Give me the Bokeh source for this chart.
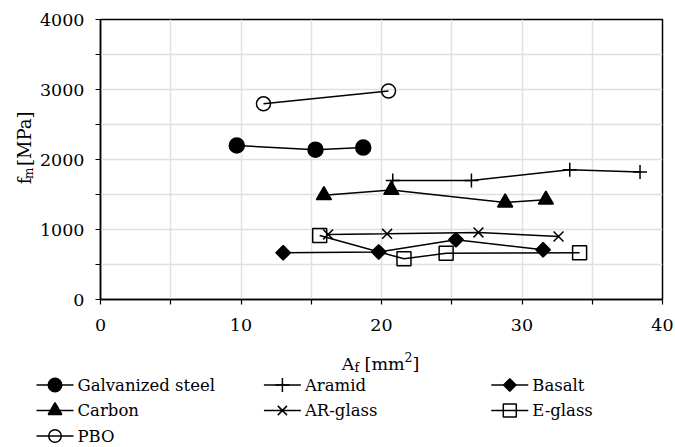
from math import pi
from bokeh.plotting import figure
from bokeh.models import Range1d, FixedTicker, Label
from bokeh.core.properties import value
from bokeh.layouts import column, row
from bokeh.embed import file_html
from bokeh.resources import INLINE

# ---- data ----
x_ticks = [0, 10, 20, 30, 40]
x_minor = [5, 15, 25, 35]
y_ticks = [0, 1000, 2000, 3000, 4000]
y_minor = [500, 1500, 2500, 3500]

steel_x = [9.7, 15.3, 18.7]
steel_y = [2200, 2140, 2170]
aramid_x = [20.8, 26.4, 33.4, 38.4]
aramid_y = [1700, 1700, 1855, 1820]
basalt_x = [13.0, 19.8, 25.3, 31.5]
basalt_y = [667, 680, 855, 710]
carbon_x = [15.9, 20.7, 28.8, 31.7]
carbon_y = [1490, 1565, 1385, 1425]
arglass_x = [16.2, 20.4, 26.9, 32.6]
arglass_y = [930, 938, 958, 900]
eglass_x = [15.6, 21.6, 24.6, 34.1]
eglass_y = [914, 581, 660, 667]
pbo_x = [11.6, 20.5]
pbo_y = [2795, 2978]

series_names = ["Galvanized steel", "Aramid", "Basalt", "Carbon", "AR-glass", "E-glass", "PBO"]

FONT = "DejaVu Serif"
LW = 1.5

# marker style per series: (marker, size in plot, size in legend, filled, angle)
styles = {
    "Galvanized steel": ("circle", 15, 13.5, True, 0.0),
    "Aramid": ("cross", 14, 14, True, 0.0),
    "Basalt": ("square", 10.2, 8.8, True, pi / 4),
    "Carbon": ("triangle", 15, 13.5, True, 0.0),
    "AR-glass": ("x", 14, 13, True, 0.0),
    "E-glass": ("square", 14, 13, False, 0.0),
    "PBO": ("circle", 14, 12.5, False, 0.0),
}
data = {
    "Galvanized steel": (steel_x, steel_y),
    "Aramid": (aramid_x, aramid_y),
    "Basalt": (basalt_x, basalt_y),
    "Carbon": (carbon_x, carbon_y),
    "AR-glass": (arglass_x, arglass_y),
    "E-glass": (eglass_x, eglass_y),
    "PBO": (pbo_x, pbo_y),
}

W, H = 675, 447
YT_W = 36          # strip holding the y title
TOP_H = 345        # plot + tick labels
BOT_H = H - TOP_H  # strip holding x title and legend


def blank(width, height):
    f = figure(width=width, height=height, output_backend="svg", toolbar_location=None,
               x_range=Range1d(0, width), y_range=Range1d(0, height),
               x_axis_location=None, y_axis_location=None, min_border=0)
    f.outline_line_color = None
    f.background_fill_color = "white"
    f.border_fill_color = "white"
    f.grid.visible = False
    return f


def lab(fig, text, x, y, size, align="left", baseline="alphabetic"):
    fig.add_layout(Label(x=x, y=y, text=text, text_font=FONT, text_font_size=f"{size}px",
                         text_color="black", text_align=align, text_baseline=baseline))


# ---- main plot ----
p = figure(width=W - YT_W, height=TOP_H, output_backend="svg", toolbar_location=None,
           x_range=Range1d(0, 40), y_range=Range1d(0, 4000),
           min_border_left=98 - YT_W, min_border_right=13, min_border_top=19,
           min_border_bottom=TOP_H - 19 - 280)
p.background_fill_color = "white"
p.border_fill_color = "white"
p.outline_line_color = "black"
p.outline_line_width = 1.5
p.outline_line_alpha = 1

p.xaxis.ticker = FixedTicker(ticks=x_ticks, minor_ticks=x_minor)
p.yaxis.ticker = FixedTicker(ticks=y_ticks, minor_ticks=y_minor)
for ax in (p.xaxis, p.yaxis):
    ax.axis_line_color = "black"
    ax.axis_line_width = 1.5
    ax.major_tick_line_color = "black"
    ax.minor_tick_line_color = "black"
    ax.major_tick_line_width = 1.2
    ax.minor_tick_line_width = 1.2
    ax.major_tick_in = 0
    ax.major_tick_out = 5
    ax.minor_tick_in = 0
    ax.minor_tick_out = 5
    ax.major_label_text_font = FONT
    ax.major_label_text_font_size = "17.5px"
    ax.major_label_text_color = "black"
p.xaxis.major_label_standoff = 14
p.yaxis.major_label_standoff = 11

for g in (p.xgrid, p.ygrid):
    g.grid_line_color = "#e0e0e0"
    g.grid_line_width = 1.5
    g.minor_grid_line_color = "#e0e0e0"
    g.minor_grid_line_width = 1.5

for name in series_names:
    xs, ys = data[name]
    marker, size, _, filled, angle = styles[name]
    p.line(xs, ys, line_color="black", line_width=LW)
    p.scatter(xs, ys, marker=marker, size=size, angle=angle, line_color="black",
              line_width=LW, fill_color="black" if filled else None)

# ---- y title: f_m [MPa], rotated text glyphs anchored at their centres ----
yt = blank(YT_W, TOP_H)
yt_parts = ["f", "m", "[MPa]"]
yt_cx = [23.8, 28.8, 23.8]
yt_cy = [TOP_H - 199.0, TOP_H - 189.5, TOP_H - 147.0]
yt_size = ["18px", "12px", "18px"]
yt.text(x=yt_cx, y=yt_cy, text=yt_parts, angle=pi / 2, text_align="center",
        text_baseline="middle", text_font=value(FONT), text_font_size=yt_size,
        text_color="black")

# ---- bottom strip: x title A_f [mm^2] + legend ----
bt = blank(W, BOT_H)
base = H - 363
lab(bt, "A", 341.3, base, 17.5)
lab(bt, "f", 353.9, base - 4, 12.5)
lab(bt, "[mm", 364.1, base, 17.5)
lab(bt, "2", 404.1, base + 7, 12.5)
lab(bt, "]", 412.1, base, 17.5)

col_x0 = 36.0
col_pitch = 227.4
row_top = H - 384.5
row_pitch = 25.5
key_len = 37.0
for i, name in enumerate(series_names):
    c, r = i % 3, i // 3
    x0 = col_x0 + c * col_pitch
    yc = row_top - r * row_pitch
    marker, _, lsize, filled, angle = styles[name]
    bt.line([x0, x0 + key_len], [yc, yc], line_color="black", line_width=LW)
    bt.scatter([x0 + key_len / 2], [yc], marker=marker, size=lsize, angle=angle,
               line_color="black", line_width=LW, fill_color="black" if filled else None)
    lab(bt, name, x0 + key_len + 4, yc, 16.5, baseline="middle")

layout = column(row(yt, p), bt)
open("out.html", "w").write(file_html(layout, INLINE))
